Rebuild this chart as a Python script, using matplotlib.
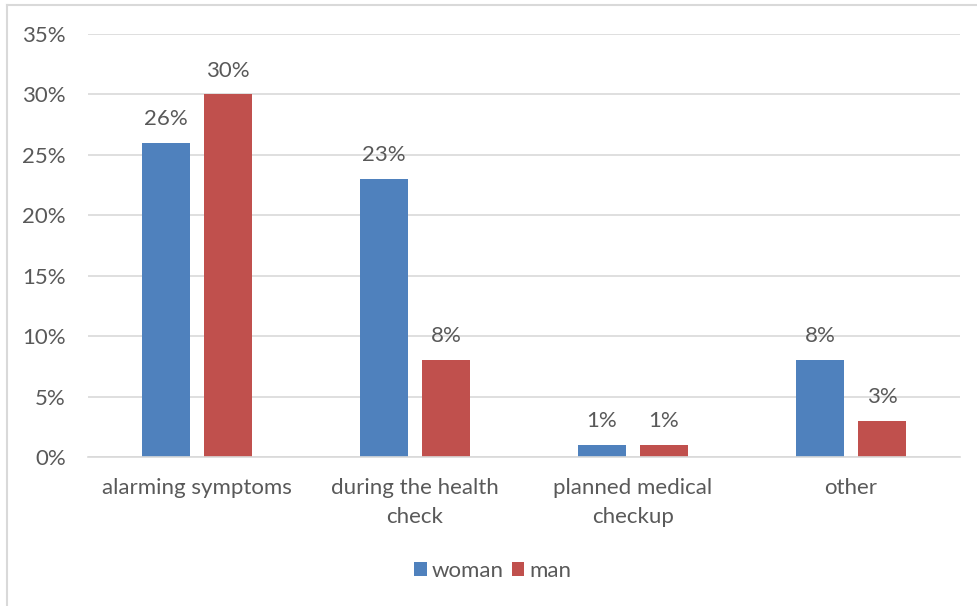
import matplotlib.pyplot as plt
import numpy as np
from matplotlib.lines import Line2D
from matplotlib.ticker import PercentFormatter

categories = ['alarming symptoms', 'during the health\ncheck', 'planned medical\ncheckup', 'other']
woman = [26, 23, 1, 8]
man = [30, 8, 1, 3]
series = ['woman', 'man']
colors = ['#4f81bd', '#c0504d']

plt.rcParams['font.family'] = ['Lato', 'DejaVu Sans']
text_color = '#595959'
fs = 16

fig = plt.figure(figsize=(9.77, 6.06), dpi=100)
ax = fig.add_axes([88 / 977, 1 - 457 / 606, 872 / 977, 423 / 606])

x = np.arange(len(categories))
width = 0.22
offset = 0.142

bars_w = ax.bar(x - offset, woman, width, color=colors[0], label=series[0])
bars_m = ax.bar(x + offset, man, width, color=colors[1], label=series[1])

for bars in (bars_w, bars_m):
    for rect in bars:
        h = rect.get_height()
        ax.annotate(f'{h:.0f}%', xy=(rect.get_x() + rect.get_width() / 2, h),
                    xytext=(0, 10), textcoords='offset points',
                    ha='center', va='bottom', fontsize=fs, color=text_color)

ax.set_xlim(-0.5, len(categories) - 0.5)
ax.set_ylim(0, 35)
ax.set_yticks(np.arange(0, 36, 5))
ax.yaxis.set_major_formatter(PercentFormatter(decimals=0))
ax.set_xticks(x)
ax.set_xticklabels(categories, linespacing=1.55)
ax.tick_params(axis='y', length=0, pad=16, labelsize=fs, labelcolor=text_color)
ax.tick_params(axis='x', length=0, pad=15, labelsize=fs, labelcolor=text_color)

ax.grid(axis='y', color='#d9d9d9', linewidth=1.2)
ax.set_axisbelow(True)
for side in ('top', 'right', 'left'):
    ax.spines[side].set_visible(False)
ax.spines['bottom'].set_color('#d9d9d9')
ax.spines['bottom'].set_linewidth(1.2)

leg = fig.legend(loc='center', bbox_to_anchor=(493 / 977, 1 - 571 / 606), ncol=2,
                 frameon=False, fontsize=fs, handlelength=0.55, handleheight=0.55,
                 handletextpad=0.25, columnspacing=0.35)
for t in leg.get_texts():
    t.set_color(text_color)

# chart frame (left and top edges)
fig.add_artist(Line2D([6.5 / 977, 6.5 / 977], [0, 1 - 4.5 / 606], color='#d9d9d9', linewidth=1.5,
                      transform=fig.transFigure))
fig.add_artist(Line2D([6.5 / 977, 1], [1 - 4.5 / 606, 1 - 4.5 / 606], color='#d9d9d9', linewidth=1.5,
                      transform=fig.transFigure))

fig.savefig('out.png', dpi=100)
